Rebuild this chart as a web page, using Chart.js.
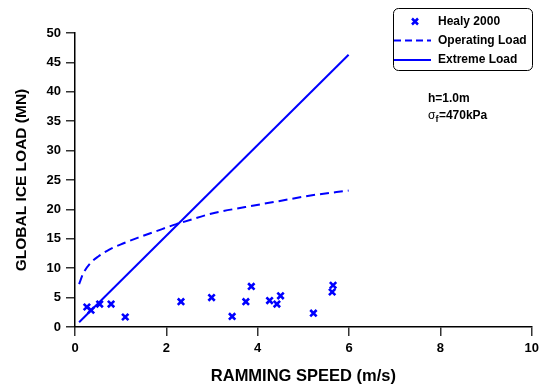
<!DOCTYPE html>
<html><head><meta charset="utf-8">
<script src="https://cdn.jsdelivr.net/npm/chart.js@4"></script>
<style>html,body{margin:0;padding:0;background:#fff}#wrap{width:544px;height:387px;position:relative}</style>
</head><body><div id="wrap"><canvas id="c"></canvas></div>
<script>
// Data
const healySpeed = [0.26, 0.35, 0.54, 0.79, 1.10, 2.32, 2.99, 3.44, 3.74, 3.86, 4.26, 4.42, 4.50, 5.22, 5.63, 5.65];
const healyLoad  = [3.4, 2.85, 3.9, 3.9, 1.7, 4.3, 5.0, 1.8, 4.3, 6.9, 4.5, 3.9, 5.3, 2.35, 5.95, 7.1];
const operatingSpeed = [0.09, 0.18, 0.33, 0.51, 0.76, 1.05, 1.42, 1.78, 2.22, 2.35, 3.0, 3.73, 4.46, 5.19, 5.99];
const operatingLoad  = [7.3, 9.1, 10.8, 12.0, 13.2, 14.2, 15.3, 16.3, 17.5, 17.8, 19.3, 20.4, 21.4, 22.4, 23.2];
const extremeSpeed = [0.09, 5.99];
const extremeLoad  = [0.8, 46.3];
const xTickValues = [0, 2, 4, 6, 8, 10];
const yTickValues = [0, 5, 10, 15, 20, 25, 30, 35, 40, 45, 50];
const seriesNames = ['Healy 2000', 'Operating Load', 'Extreme Load'];
const annotationLines = ['h=1.0m', '=470kPa'];

const BLUE = '#0000ff';
const FONT = '"Liberation Sans", Arial, sans-serif';
const zip = (xs, ys) => xs.map((x, i) => ({x, y: ys[i]}));

const overlay = {
  id: 'overlay',
  afterDraw(chart) {
    const ctx = chart.ctx;
    ctx.save();
    // legend box
    const bx = 393.5, by = 8.5, bw = 139, bh = 62, r = 5;
    ctx.beginPath();
    ctx.moveTo(bx + r, by);
    ctx.lineTo(bx + bw - r, by); ctx.arcTo(bx + bw, by, bx + bw, by + r, r);
    ctx.lineTo(bx + bw, by + bh - r); ctx.arcTo(bx + bw, by + bh, bx + bw - r, by + bh, r);
    ctx.lineTo(bx + r, by + bh); ctx.arcTo(bx, by + bh, bx, by + bh - r, r);
    ctx.lineTo(bx, by + r); ctx.arcTo(bx, by, bx + r, by, r);
    ctx.closePath();
    ctx.fillStyle = '#fff'; ctx.fill();
    ctx.strokeStyle = '#000'; ctx.lineWidth = 1; ctx.stroke();

    const rows = [21.5, 40.5, 60];
    // marker
    ctx.strokeStyle = BLUE; ctx.lineWidth = 2.5;
    const mx = 415, my = rows[0], d = 3;
    ctx.beginPath();
    ctx.moveTo(mx - d, my - d); ctx.lineTo(mx + d, my + d);
    ctx.moveTo(mx + d, my - d); ctx.lineTo(mx - d, my + d);
    ctx.stroke();
    // dashed
    ctx.lineWidth = 2;
    ctx.setLineDash([7, 4]);
    ctx.beginPath(); ctx.moveTo(394, rows[1]); ctx.lineTo(431, rows[1]); ctx.stroke();
    ctx.setLineDash([]);
    ctx.beginPath(); ctx.moveTo(394, rows[2]); ctx.lineTo(431, rows[2]); ctx.stroke();

    ctx.fillStyle = '#000';
    ctx.font = 'bold 12px ' + FONT;
    ctx.textBaseline = 'middle';
    ctx.textAlign = 'left';
    seriesNames.forEach((n, i) => ctx.fillText(n, 438, rows[i]));

    // annotation
    ctx.textBaseline = 'alphabetic';
    ctx.font = 'bold 12px ' + FONT;
    ctx.fillText(annotationLines[0], 428, 102);
    ctx.font = '12px ' + FONT;
    ctx.fillText('σ', 428, 119);
    let x = 428 + ctx.measureText('σ').width;
    ctx.font = 'bold 9px ' + FONT;
    ctx.fillText('f', x, 122);
    x += ctx.measureText('f').width + 0.5;
    ctx.font = 'bold 12px ' + FONT;
    ctx.fillText(annotationLines[1], x, 119);
    ctx.restore();
  }
};

new Chart(document.getElementById('c'), {
  type: 'scatter',
  data: {
    datasets: [
      {
        label: seriesNames[0],
        data: zip(healySpeed, healyLoad),
        pointStyle: 'crossRot',
        pointRadius: 4.5,
        pointBorderWidth: 2.6,
        borderColor: BLUE,
        backgroundColor: BLUE,
        showLine: false
      },
      {
        label: seriesNames[1],
        data: zip(operatingSpeed, operatingLoad),
        showLine: true,
        borderColor: BLUE,
        borderWidth: 2,
        borderDash: [9, 5],
        pointRadius: 0,
        cubicInterpolationMode: 'monotone',
        fill: false
      },
      {
        label: seriesNames[2],
        data: zip(extremeSpeed, extremeLoad),
        showLine: true,
        borderColor: BLUE,
        borderWidth: 2,
        pointRadius: 0,
        fill: false
      }
    ]
  },
  options: {
    responsive: true,
    maintainAspectRatio: false,
    animation: false,
    layout: {padding: {left: 0, top: 33, right: 11, bottom: 0}},
    plugins: {legend: {display: false}, tooltip: {enabled: false}},
    scales: {
      x: {
        type: 'linear', min: 0, max: 10,
        afterFit(s) { s.height = 60; },
        afterBuildTicks(s) { s.ticks = xTickValues.map(v => ({value: v})); },
        border: {color: '#000', width: 1.5},
        grid: {drawOnChartArea: false, drawTicks: true, tickLength: 9, color: '#333', lineWidth: 1.5},
        ticks: {color: '#000', padding: 5, font: {family: FONT, size: 13, weight: 'bold'}},
        title: {display: true, text: 'RAMMING SPEED (m/s)', color: '#000',
                padding: {top: 0, bottom: 1}, font: {family: FONT, size: 16.5, weight: 'bold'}}
      },
      y: {
        type: 'linear', min: 0, max: 50,
        afterFit(s) { s.width = 75; },
        afterBuildTicks(s) { s.ticks = yTickValues.map(v => ({value: v})); },
        border: {color: '#000', width: 1.5},
        grid: {drawOnChartArea: false, drawTicks: true, tickLength: 9, color: '#333', lineWidth: 1.5},
        ticks: {color: '#000', padding: 5, font: {family: FONT, size: 13, weight: 'bold'}},
        title: {display: true, text: 'GLOBAL ICE LOAD (MN)', color: '#000',
                padding: {top: 12, bottom: 0}, font: {family: FONT, size: 15.5, weight: 'bold'}}
      }
    }
  },
  plugins: [overlay]
});
</script>
</body></html>
